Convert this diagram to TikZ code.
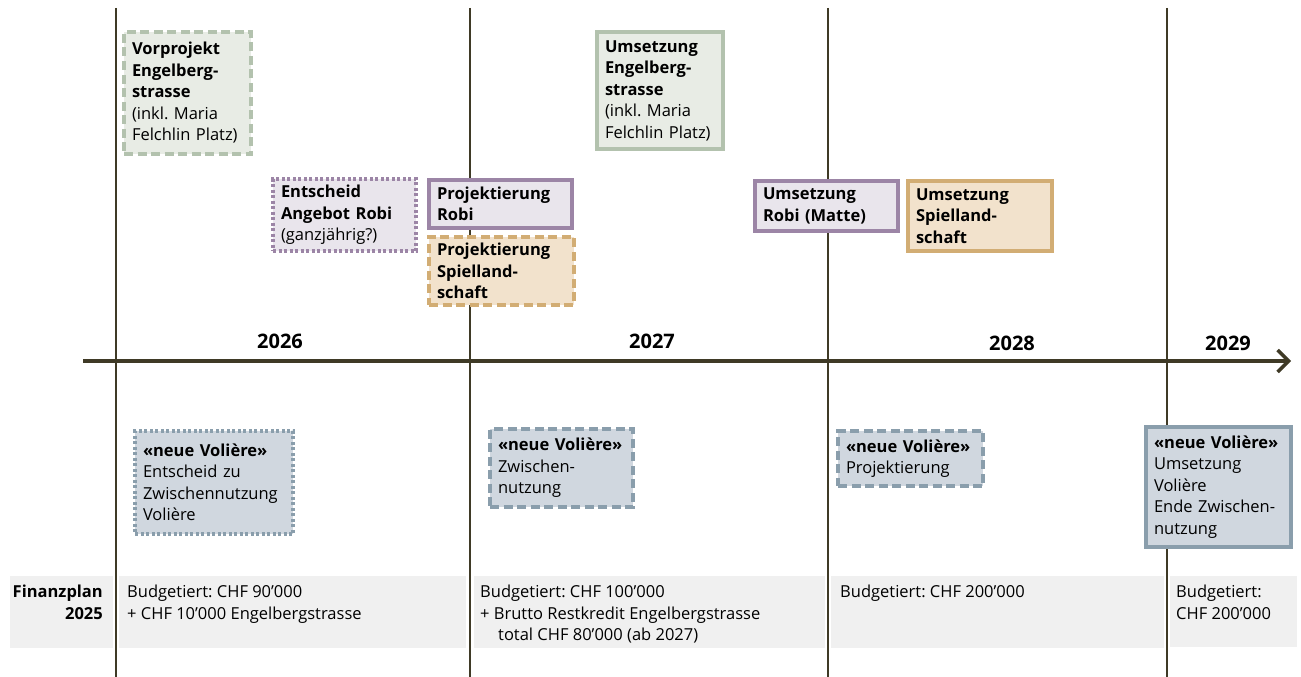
\documentclass[tikz,border=0pt]{standalone}
\usepackage{fontspec}
\setmainfont{Open Sans}
\usetikzlibrary{arrows.meta}
\frenchspacing
\definecolor{axiscol}{HTML}{3F3A26}
\definecolor{sageline}{HTML}{B3C2AE}
\definecolor{sagefill}{HTML}{E8ECE5}
\definecolor{purpline}{HTML}{9C85A6}
\definecolor{purpfill}{HTML}{E9E5EC}
\definecolor{tanline}{HTML}{D2AD74}
\definecolor{tanfill}{HTML}{F2E2CC}
\definecolor{blueline}{HTML}{8A9EAC}
\definecolor{bluefill}{HTML}{D0D7DF}
\definecolor{bandfill}{HTML}{F0F0F0}
\tikzset{
  txt/.style={font=\fontsize{16.5}{21.5}\selectfont\frenchspacing},
  box/.style={txt, draw, line width=4pt, inner xsep=8pt, inner ysep=6pt, align=left, anchor=north west},
  sagebox/.style={box, draw=sageline, fill=sagefill},
  purpbox/.style={box, draw=purpline, fill=purpfill},
  tanbox/.style={box, draw=tanline, fill=tanfill},
  bluebox/.style={box, draw=blueline, fill=bluefill},
  dashedline/.style={dash pattern=on 9pt off 4.5pt},
  dottedline/.style={dash pattern=on 3pt off 2.5pt},
  yearline/.style={draw=axiscol, line width=1.3pt},
  yearlbl/.style={font=\fontsize{20}{24}\selectfont\bfseries},
  band/.style={fill=bandfill, draw=none},
  fintext/.style={txt, inner sep=0pt, align=left, anchor=north west}
}
\begin{document}
\begin{tikzpicture}[x=1pt,y=-1pt]
\useasboundingbox (0,0) rectangle (1301,677);
% finance bands
\fill[band] (10,576) rectangle (113,648);
\fill[band] (119,576) rectangle (466,648);
\fill[band] (474,576) rectangle (825,648);
\fill[band] (831,576) rectangle (1164,648);
\fill[band] (1170,576) rectangle (1297,647);
% year lines
\coordinate (l1t) at (116,8); \coordinate (l1b) at (116,677);
\coordinate (l2t) at (470,8); \coordinate (l2b) at (470,677);
\coordinate (l3t) at (828,8); \coordinate (l3b) at (828,677);
\coordinate (l4t) at (1167,8); \coordinate (l4b) at (1167,677);
\draw[yearline] (l1t) -- (l1b);
\draw[yearline] (l2t) -- (l2b);
\draw[yearline] (l3t) -- (l3b);
\draw[yearline] (l4t) -- (l4b);
% axis
\coordinate (axs) at (83,361);
\coordinate (axe) at (1291,361);
\draw[draw=axiscol, line width=3.5pt, -{Straight Barb[length=11pt,width=22pt,line width=3.5pt]}] (axs) -- (axe);
% years
\node[yearlbl] (y26) at (280,341) {2026};
\node[yearlbl] (y27) at (652,341) {2027};
\node[yearlbl] (y28) at (1012,343) {2028};
\node[yearlbl] (y29) at (1228,343) {2029};
% top boxes
\node[sagebox, dashedline, minimum width=127pt, minimum height=122pt, text width=111pt] (vp) at (122,30)
  {\textbf{Vorprojekt}\\\textbf{Engelberg-}\\\textbf{strasse}\\(inkl. Maria\\Felchlin Platz)};
\node[sagebox, minimum width=126pt, minimum height=117pt, text width=110pt] (ue) at (595,30)
  {\textbf{Umsetzung}\\\textbf{Engelberg-}\\\textbf{strasse}\\(inkl. Maria\\Felchlin Platz)};
\node[purpbox, dottedline, minimum width=143pt, minimum height=72pt, text width=127pt] (ea) at (271,177)
  {\textbf{Entscheid}\\\textbf{Angebot Robi}\\(ganzjährig?)};
\node[purpbox, minimum width=143pt, minimum height=48pt, text width=127pt] (pr) at (427,178)
  {\textbf{Projektierung}\\\textbf{Robi}};
\node[tanbox, dashedline, minimum width=145pt, minimum height=65pt, text width=129pt] (ps) at (427,235)
  {\textbf{Projektierung}\\\textbf{Spielland-}\\\textbf{schaft}};
\node[purpbox, minimum width=143pt, minimum height=50pt, text width=127pt] (ur) at (753,179)
  {\textbf{Umsetzung}\\\textbf{Robi (Matte)}};
\node[tanbox, minimum width=144pt, minimum height=70pt, text width=128pt] (us) at (906,179)
  {\textbf{Umsetzung}\\\textbf{Spielland-}\\\textbf{schaft}};
% bottom boxes
\node[bluebox, dottedline, minimum width=158pt, minimum height=103pt, text width=142pt] (v1) at (133,429)
  {\textbf{«neue Volière»}\\Entscheid zu\\Zwischennutzung\\Volière};
\node[bluebox, dashedline, minimum width=143pt, minimum height=78pt, text width=127pt] (v2) at (488,427)
  {\textbf{«neue Volière»}\\Zwischen-\\nutzung};
\node[bluebox, dashedline, minimum width=145pt, minimum height=55pt, text width=129pt] (v3) at (836,429)
  {\textbf{«neue Volière»}\\Projektierung};
\node[bluebox, minimum width=145pt, minimum height=120pt, text width=129pt] (v4) at (1144,425)
  {\textbf{«neue Volière»}\\Umsetzung\\Volière\\Ende Zwischen-\\nutzung};
% finance texts
\node[fintext, align=right, anchor=north east] (fp) at (103,585) {\textbf{Finanzplan}\\\textbf{2025}};
\node[fintext] (f1) at (127,585) {Budgetiert: CHF 90’000\\+ CHF 10’000 Engelbergstrasse};
\node[fintext] (f2) at (480,585) {Budgetiert: CHF 100’000\\+ Brutto Restkredit Engelbergstrasse\\\hspace*{18pt}total CHF 80’000 (ab 2027)};
\node[fintext] (f3) at (840,585) {Budgetiert: CHF 200’000};
\node[fintext] (f4) at (1176,585) {Budgetiert:\\CHF 200’000};
\end{tikzpicture}
\end{document}
